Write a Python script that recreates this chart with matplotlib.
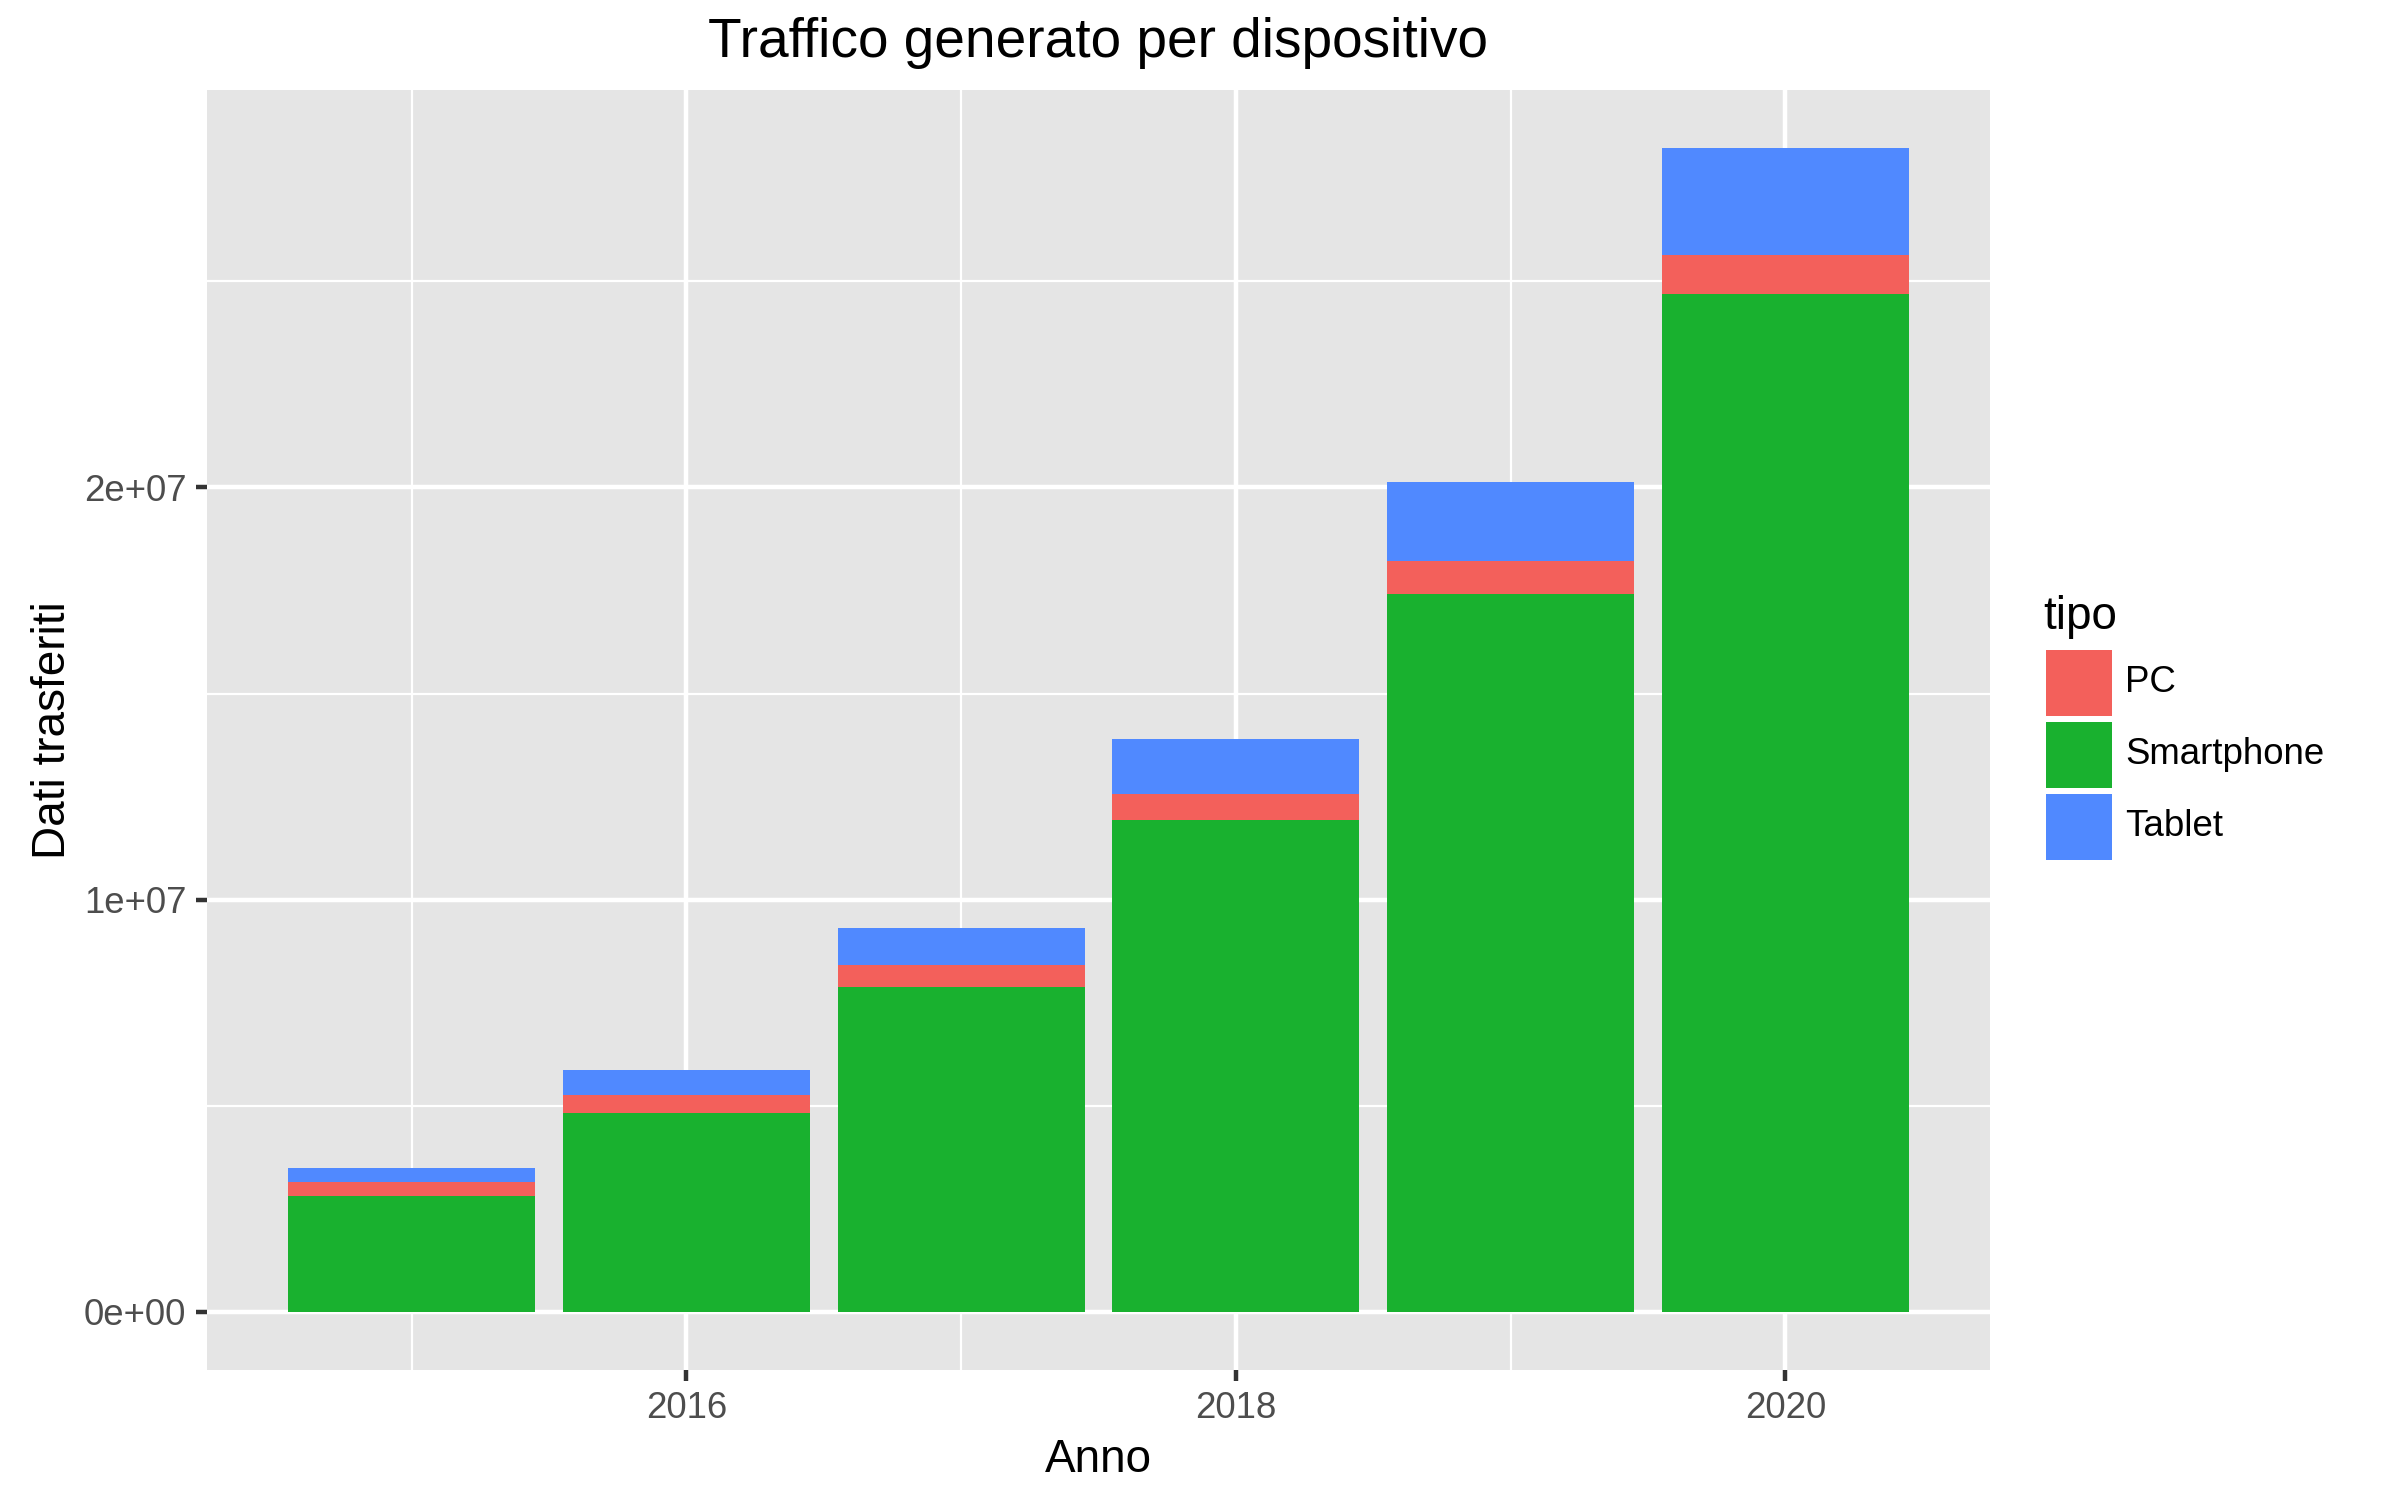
import numpy as np
import matplotlib.pyplot as plt
from matplotlib.patches import Rectangle
from matplotlib.ticker import FixedLocator

plt.rcParams['font.family'] = ['Liberation Sans', 'DejaVu Sans']

# dati
anni = [2015, 2016, 2017, 2018, 2019, 2020]
smartphone = [2.82e6, 4.83e6, 7.87e6, 11.92e6, 17.42e6, 24.70e6]
pc = [0.33e6, 0.44e6, 0.55e6, 0.65e6, 0.79e6, 0.94e6]
tablet = [0.34e6, 0.59e6, 0.90e6, 1.33e6, 1.92e6, 2.59e6]

tipi = ['PC', 'Smartphone', 'Tablet']
colori = {'PC': '#F3605B', 'Smartphone': '#19B12F', 'Tablet': '#5089FF'}

fig = plt.figure(figsize=(8, 5), dpi=300)
ax = fig.add_axes([207 / 2400, 1 - 1370 / 1500, (1990 - 207) / 2400, (1370 - 90) / 1500])

# barre impilate: smartphone in basso, poi PC, poi tablet
base = np.zeros(len(anni))
for nome, valori in [('Smartphone', smartphone), ('PC', pc), ('Tablet', tablet)]:
    ax.bar(anni, valori, width=0.9, bottom=base, color=colori[nome], linewidth=0, zorder=3)
    base = base + np.array(valori)

totale = base.max()
ax.set_xlim(2014.55 - 0.295, 2020.45 + 0.295)
ax.set_ylim(-0.05 * totale, totale * 1.05)

# stile ggplot
ax.set_facecolor('#E5E5E5')
for s in ax.spines.values():
    s.set_visible(False)
ax.set_xticks([2016, 2018, 2020])
ax.set_xticklabels(['2016', '2018', '2020'])
ax.set_yticks([0, 1e7, 2e7])
ax.set_yticklabels(['0e+00', '1e+07', '2e+07'])
ax.xaxis.set_minor_locator(FixedLocator([2015, 2017, 2019]))
ax.yaxis.set_minor_locator(FixedLocator([5e6, 1.5e7, 2.5e7]))
ax.grid(which='major', color='white', linewidth=1.07, zorder=0)
ax.grid(which='minor', color='white', linewidth=0.53, zorder=0)
ax.set_axisbelow(True)
ax.tick_params(which='major', length=2.75, width=1.07, color='#333333',
               labelsize=8.8, labelcolor='#4D4D4D', pad=2.2)
ax.tick_params(which='minor', length=0)

ax.set_title('Traffico generato per dispositivo', fontsize=13.2, pad=8)
ax.set_xlabel('Anno', fontsize=11, labelpad=3)
ax.set_ylabel('Dati trasferiti', fontsize=11, labelpad=2)

# legenda
fig.text(2043 / 2400, 1 - 629 / 1500, 'tipo', fontsize=11, va='baseline', ha='left')
y_top = [650, 722, 794]
for nome, y in zip(tipi, y_top):
    fig.add_artist(Rectangle((2046 / 2400, 1 - (y + 66) / 1500), 66 / 2400, 66 / 1500,
                             transform=fig.transFigure, facecolor=colori[nome],
                             edgecolor='none'))
    fig.text(2125 / 2400, 1 - (y + 33) / 1500, nome, fontsize=8.8, va='center', ha='left')

fig.savefig('out.png', dpi=300)
